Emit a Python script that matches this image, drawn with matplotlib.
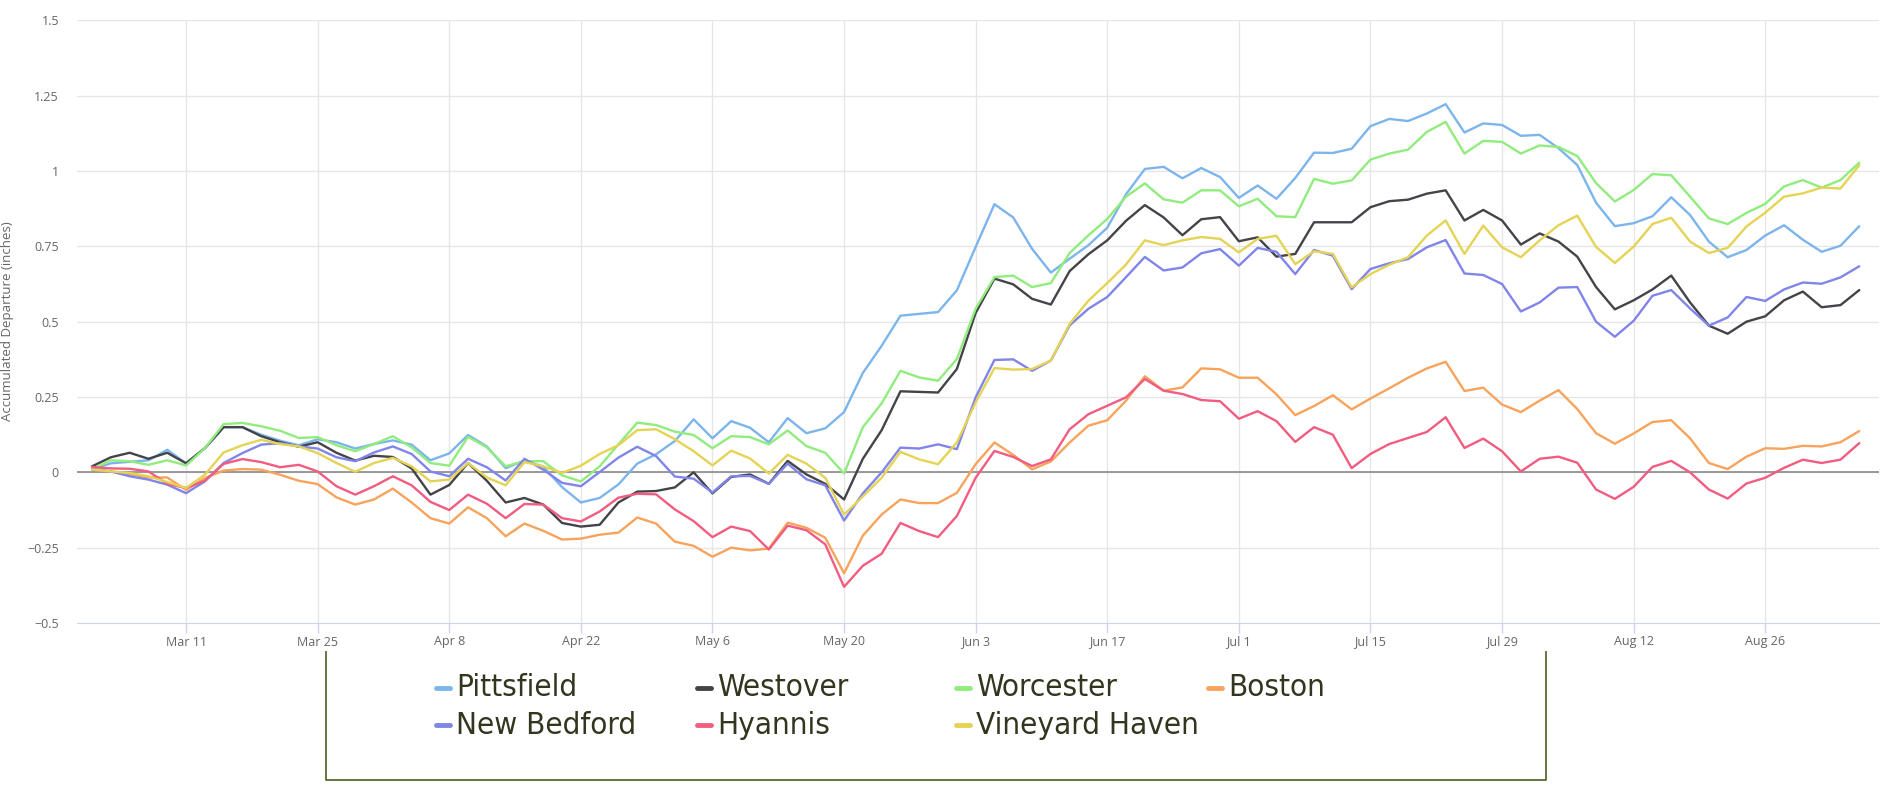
import pandas as pd
import matplotlib
matplotlib.use("Agg")
from matplotlib import pyplot as plt
from matplotlib import font_manager
from matplotlib.lines import Line2D

# values read every second day, Mar 1 -> Sep 5
dates = pd.date_range("2019-03-01", periods=95, freq="2D")

pittsfield = [0.01, 0.03, 0.035, 0.04, 0.075, 0.03, 0.08, 0.15, 0.15, 0.125, 0.105, 0.09, 0.11, 0.10,
              0.079, 0.094, 0.106, 0.092, 0.04, 0.063, 0.124, 0.086, 0.014, 0.039, 0.019, -0.049, -0.10, -0.085,
              -0.04, 0.029, 0.06, 0.104, 0.176, 0.113, 0.17, 0.148, 0.100, 0.18, 0.13, 0.146, 0.20, 0.33,
              0.42, 0.52, 0.526, 0.532, 0.604, 0.748, 0.89, 0.846, 0.742, 0.663, 0.709, 0.754, 0.812, 0.923, 1.007, 1.014, 0.976,
              1.01, 0.98, 0.911, 0.952, 0.908, 0.977, 1.061, 1.06, 1.074, 1.149, 1.173, 1.166, 1.191, 1.222, 1.128, 1.158, 1.153, 1.117,
              1.12, 1.076, 1.02, 0.895, 0.817, 0.827, 0.85, 0.913, 0.854, 0.766, 0.714, 0.738, 0.786, 0.82, 0.772, 0.732, 0.752, 0.817]

westover = [0.02, 0.05, 0.065, 0.045, 0.065, 0.03, 0.08, 0.15, 0.15, 0.12, 0.10, 0.085, 0.10, 0.065,
            0.039, 0.055, 0.051, 0.013, -0.074, -0.042, 0.031, -0.028, -0.10, -0.085, -0.107, -0.168, -0.18, -0.174,
            -0.10, -0.064, -0.062, -0.05, 0.0, -0.07, -0.015, -0.007, -0.038, 0.038, -0.007, -0.038, -0.09, 0.045,
            0.14, 0.269, 0.267, 0.265, 0.343, 0.529, 0.643, 0.624, 0.576, 0.557, 0.668, 0.724, 0.77, 0.835, 0.887, 0.846, 0.787,
            0.84, 0.847, 0.767, 0.78, 0.716, 0.725, 0.83, 0.83, 0.83, 0.88, 0.90, 0.905, 0.925, 0.936, 0.836, 0.871, 0.836, 0.756,
            0.793, 0.766, 0.716, 0.615, 0.541, 0.571, 0.607, 0.653, 0.564, 0.487, 0.46, 0.5, 0.518, 0.571, 0.60, 0.548, 0.555, 0.605]

worcester = [0.01, 0.04, 0.037, 0.025, 0.04, 0.023, 0.08, 0.16, 0.164, 0.153, 0.138, 0.114, 0.117, 0.09,
             0.07, 0.094, 0.12, 0.083, 0.031, 0.022, 0.118, 0.083, 0.02, 0.037, 0.037, -0.01, -0.03, 0.02,
             0.093, 0.165, 0.157, 0.135, 0.124, 0.08, 0.12, 0.117, 0.093, 0.139, 0.087, 0.065, -0.004, 0.15,
             0.229, 0.337, 0.315, 0.304, 0.376, 0.543, 0.648, 0.653, 0.615, 0.628, 0.728, 0.787, 0.841, 0.915, 0.959, 0.906, 0.895,
             0.936, 0.936, 0.883, 0.908, 0.85, 0.847, 0.974, 0.958, 0.969, 1.038, 1.058, 1.071, 1.13, 1.163, 1.058, 1.10, 1.097, 1.058,
             1.085, 1.08, 1.05, 0.96, 0.899, 0.937, 0.99, 0.986, 0.915, 0.843, 0.824, 0.861, 0.891, 0.949, 0.97, 0.945, 0.97, 1.028]

boston = [0.009, 0.003, -0.006, -0.017, -0.017, -0.058, -0.019, 0.006, 0.011, 0.009, -0.008, -0.028, -0.039, -0.083,
          -0.107, -0.09, -0.054, -0.10, -0.152, -0.17, -0.116, -0.152, -0.212, -0.17, -0.194, -0.223, -0.22, -0.207,
          -0.2, -0.15, -0.17, -0.23, -0.244, -0.28, -0.25, -0.259, -0.253, -0.167, -0.184, -0.217, -0.335, -0.21,
          -0.14, -0.09, -0.102, -0.102, -0.068, 0.027, 0.099, 0.058, 0.01, 0.036, 0.099, 0.155, 0.173, 0.238, 0.319, 0.271, 0.282,
          0.345, 0.342, 0.314, 0.314, 0.259, 0.19, 0.22, 0.256, 0.209, 0.245, 0.279, 0.314, 0.345, 0.367, 0.27, 0.281, 0.225, 0.20,
          0.238, 0.273, 0.21, 0.13, 0.095, 0.129, 0.167, 0.173, 0.113, 0.031, 0.011, 0.052, 0.08, 0.078, 0.088, 0.086, 0.10, 0.137]

new_bedford = [0.012, 0.003, -0.013, -0.024, -0.041, -0.069, -0.03, 0.031, 0.064, 0.092, 0.097, 0.086, 0.079, 0.05,
               0.037, 0.066, 0.086, 0.061, 0.003, -0.013, 0.045, 0.017, -0.027, 0.045, 0.009, -0.035, -0.046, 0.001,
               0.049, 0.085, 0.054, -0.014, -0.021, -0.067, -0.013, -0.012, -0.038, 0.029, -0.023, -0.043, -0.16, -0.07,
               0.0, 0.082, 0.079, 0.093, 0.077, 0.249, 0.373, 0.375, 0.337, 0.371, 0.488, 0.543, 0.582, 0.648, 0.715, 0.67, 0.68,
               0.727, 0.741, 0.686, 0.745, 0.732, 0.658, 0.738, 0.719, 0.608, 0.675, 0.694, 0.708, 0.747, 0.771, 0.66, 0.655, 0.625, 0.534,
               0.564, 0.613, 0.615, 0.50, 0.45, 0.503, 0.586, 0.605, 0.544, 0.487, 0.514, 0.582, 0.569, 0.607, 0.63, 0.626, 0.647, 0.684]

hyannis = [0.018, 0.013, 0.012, 0.003, -0.038, -0.052, -0.028, 0.028, 0.044, 0.034, 0.017, 0.025, 0.003, -0.046,
           -0.074, -0.046, -0.013, -0.043, -0.098, -0.125, -0.074, -0.104, -0.152, -0.105, -0.107, -0.152, -0.163, -0.13,
           -0.084, -0.071, -0.073, -0.123, -0.162, -0.215, -0.18, -0.195, -0.256, -0.177, -0.192, -0.239, -0.38, -0.31,
           -0.27, -0.168, -0.195, -0.215, -0.145, -0.018, 0.071, 0.051, 0.021, 0.043, 0.143, 0.193, 0.221, 0.249, 0.31, 0.271, 0.26,
           0.24, 0.236, 0.178, 0.203, 0.17, 0.101, 0.15, 0.125, 0.014, 0.061, 0.094, 0.114, 0.134, 0.183, 0.081, 0.112, 0.07, 0.003,
           0.045, 0.052, 0.032, -0.057, -0.088, -0.048, 0.018, 0.038, 0.0, -0.057, -0.087, -0.037, -0.018, 0.015, 0.042, 0.031, 0.042, 0.097]

vineyard_haven = [0.01, 0.003, -0.002, -0.013, -0.032, -0.052, -0.008, 0.066, 0.09, 0.108, 0.094, 0.086, 0.064, 0.031,
                  0.002, 0.031, 0.048, 0.02, -0.03, -0.024, 0.031, -0.017, -0.043, 0.034, 0.02, -0.002, 0.022, 0.061,
                  0.09, 0.14, 0.143, 0.11, 0.07, 0.023, 0.072, 0.046, -0.004, 0.058, 0.029, -0.018, -0.14, -0.08,
                  -0.018, 0.068, 0.043, 0.027, 0.099, 0.232, 0.346, 0.341, 0.343, 0.371, 0.493, 0.57, 0.628, 0.69, 0.77, 0.754, 0.77,
                  0.781, 0.775, 0.73, 0.775, 0.785, 0.691, 0.734, 0.725, 0.614, 0.658, 0.689, 0.714, 0.786, 0.836, 0.725, 0.819, 0.747, 0.714,
                  0.77, 0.82, 0.852, 0.748, 0.695, 0.749, 0.824, 0.845, 0.766, 0.728, 0.745, 0.816, 0.862, 0.915, 0.926, 0.945, 0.942, 1.019]

names = ["Pittsfield", "Westover", "Worcester", "Boston", "New Bedford", "Hyannis", "Vineyard Haven"]
values = [pittsfield, westover, worcester, boston, new_bedford, hyannis, vineyard_haven]
colors = ["#7cb5ec", "#434348", "#90ed7d", "#f7a35c", "#8085e9", "#f15c80", "#e4d354"]

y_ticks = [-0.5, -0.25, 0, 0.25, 0.5, 0.75, 1, 1.25, 1.5]
x_ticks = pd.date_range("2019-03-11", "2019-09-05", freq="14D")

W, H = 1883, 786
axis_font = ["Open Sans", "DejaVu Sans"]


def narrow_font():
    # the legend uses a condensed face; take whichever narrow font is installed
    fonts = font_manager.fontManager.ttflist
    for f in fonts:
        if f.name == "Liberation Sans Narrow" and f.weight in (400, "normal") and f.style == "normal":
            return font_manager.FontProperties(fname=f.fname)
    for key in ("DejaVuSansCondensed.ttf", "NotoSans-Condensed.ttf", "OpenSans-Condensed", "Roboto Condensed"):
        for f in fonts:
            if key in f.fname or key == f.name:
                return font_manager.FontProperties(fname=f.fname)
    for f in fonts:
        if f.stretch in ("condensed", "semi-condensed", 75, 87.5) and f.style == "normal" \
                and f.weight in (400, "normal"):
            return font_manager.FontProperties(fname=f.fname)
    return None


legend_prop = narrow_font()

fig = plt.figure(figsize=(W / 100, H / 100), dpi=100)
left, right, top, bottom = 77, 1879, 20.4, 623
ax = fig.add_axes([left / W, 1 - bottom / H, (right - left) / W, (bottom - top) / H])

for name, vals, col in zip(names, values, colors):
    ax.plot(dates, vals, color=col, lw=1.7, label=name, zorder=3,
            solid_joinstyle="round", solid_capstyle="round")

ax.axhline(0, color="#8a8a8a", lw=1.2, zorder=2)

start = pd.Timestamp("2019-03-01")
ax.set_xlim(start - pd.Timedelta(days=1.6), start + pd.Timedelta(days=190.1))
ax.set_ylim(-0.5, 1.5)

ax.set_yticks(y_ticks)
ax.set_yticklabels([f"{v:g}".replace("-", "\u2212") for v in y_ticks],
                   fontsize=9, color="#666666", family=axis_font)
ax.set_xticks(x_ticks)
ax.set_xticklabels([f"{d:%b} {d.day}" for d in x_ticks],
                   fontsize=9, color="#666666", family=axis_font)

ax.grid(True, color="#e6e6e6", lw=1, zorder=0)
ax.tick_params(axis="y", length=0, pad=13)
ax.tick_params(axis="x", length=7, width=1, color="#ccd6eb", pad=2)
for side in ["top", "left", "right"]:
    ax.spines[side].set_visible(False)
ax.spines["bottom"].set_color("#ccd6eb")

fig.text(8 / W, 1 - 321 / H, "Accumulated Departure (inches)", rotation=90,
         ha="center", va="center", fontsize=9.5, color="#666666", family=axis_font)

# legend box, open at the top
box_col = "#556b2f"
bx0, bx1, by0, by1 = 326 / W, 1546 / W, 1 - 652 / H, 1 - 780 / H
fig.add_artist(Line2D([bx0, bx0, bx1, bx1], [by0, by1, by1, by0],
                      transform=fig.transFigure, color=box_col, lw=1.3))

col_x = [436, 697, 956, 1208]
row_y = [688, 725]
for i, (name, col) in enumerate(zip(names, colors)):
    r, c = divmod(i, 4)
    x0 = col_x[c]
    y0 = 1 - row_y[r] / H
    fig.add_artist(Line2D([x0 / W, (x0 + 14) / W], [y0, y0], transform=fig.transFigure,
                          color=col, lw=3.5, solid_capstyle="round"))
    if legend_prop is not None:
        fig.text((x0 + 20) / W, y0, name, ha="left", va="center", fontproperties=legend_prop,
                 fontsize=22.5, color="#33351f")
    else:
        fig.text((x0 + 20) / W, y0, name, ha="left", va="center", family="DejaVu Sans",
                 fontsize=20, color="#33351f")

fig.savefig("out.png", dpi=100)
